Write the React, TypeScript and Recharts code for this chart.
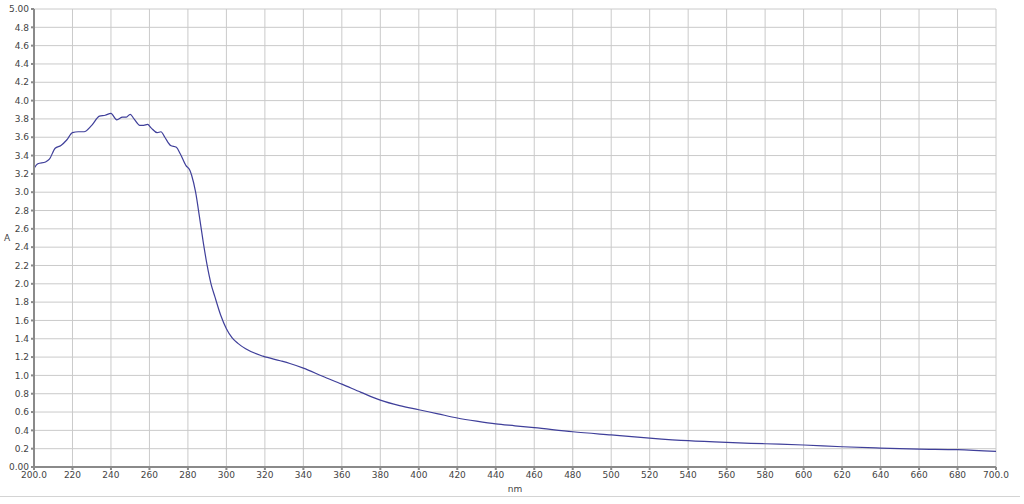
import { LineChart, Line, XAxis, YAxis, CartesianGrid } from "recharts";

// wavelength (nm) and absorbance
const wavelengths = [
  200, 202, 206, 208, 211, 214, 217, 220, 223, 226, 230, 234, 237, 240, 243,
  246, 248, 250, 252, 255, 257, 259, 261, 264, 266, 268, 271, 274, 276, 279,
  281, 282, 284, 286, 288, 290, 292, 294, 297, 300, 303, 306, 310, 319, 328,
  333, 340, 350, 360, 370, 380, 390, 400, 410, 420, 430, 440, 450, 460, 480,
  500, 520, 540, 560, 580, 600, 620, 640, 660, 680, 700,
];
const absorbance = [
  3.26, 3.31, 3.33, 3.36, 3.48, 3.51, 3.57, 3.65, 3.66, 3.66, 3.73, 3.83, 3.84,
  3.86, 3.79, 3.82, 3.82, 3.85, 3.8, 3.73, 3.73, 3.74, 3.7, 3.65, 3.66, 3.6,
  3.51, 3.49, 3.42, 3.29, 3.24, 3.18, 3.0, 2.73, 2.45, 2.2, 2.0, 1.86, 1.66,
  1.51, 1.41, 1.35, 1.29, 1.21, 1.16, 1.13, 1.08, 0.99, 0.905, 0.815, 0.73,
  0.67, 0.625, 0.58, 0.535, 0.5, 0.47, 0.45, 0.43, 0.385, 0.35, 0.316, 0.287,
  0.268, 0.254, 0.24, 0.221, 0.207, 0.196, 0.189, 0.17,
];

const xTicks = [
  200, 220, 240, 260, 280, 300, 320, 340, 360, 380, 400, 420, 440, 460, 480,
  500, 520, 540, 560, 580, 600, 620, 640, 660, 680, 700,
];
const yTicks = [
  0, 0.2, 0.4, 0.6, 0.8, 1.0, 1.2, 1.4, 1.6, 1.8, 2.0, 2.2, 2.4, 2.6, 2.8, 3.0,
  3.2, 3.4, 3.6, 3.8, 4.0, 4.2, 4.4, 4.6, 4.8, 5.0,
];

const data = wavelengths.map((nm, i) => ({ nm, a: absorbance[i] }));

const tickStyle = { fontSize: 9, fill: "#444", fontFamily: "DejaVu Sans" };

export default function App() {
  return (
    <div
      style={{
        position: "absolute",
        left: 0,
        top: 0,
        width: 1024,
        height: 504,
        background: "#fff",
      }}
    >
      <LineChart
        width={1024}
        height={496}
        data={data}
        margin={{ top: 9, right: 28, left: 0, bottom: 0 }}
      >
        <CartesianGrid stroke="#cacaca" strokeWidth={1} />
        <XAxis
          dataKey="nm"
          type="number"
          domain={[200, 700]}
          ticks={xTicks}
          interval={0}
          height={29}
          tickSize={3}
          tick={tickStyle}
          tickFormatter={(v: number) =>
            v === 200 || v === 700 ? v.toFixed(1) : String(v)
          }
          stroke="#8a8a8a"
          strokeWidth={2}
          label={{
            value: "nm",
            position: "insideBottom",
            offset: 4,
            style: { fontSize: 9, fill: "#444", fontFamily: "DejaVu Sans" },
          }}
        />
        <YAxis
          type="number"
          domain={[0, 5]}
          ticks={yTicks}
          interval={0}
          width={34}
          tickSize={3}
          tick={tickStyle}
          tickFormatter={(v: number) =>
            v === 0 || v === 5 ? v.toFixed(2) : v.toFixed(1)
          }
          stroke="#8a8a8a"
          strokeWidth={2}
          label={{
            value: "A",
            position: "insideLeft",
            offset: 4,
            style: { fontSize: 9, fill: "#444", fontFamily: "DejaVu Sans" },
          }}
        />
        <Line
          dataKey="a"
          type="monotone"
          stroke="#3f3f9a"
          strokeWidth={1.2}
          dot={false}
          isAnimationActive={false}
        />
      </LineChart>
      <div
        style={{
          position: "absolute",
          left: 0,
          top: 496,
          width: 1020,
          height: 0,
          borderTop: "1px solid #d4d4d4",
        }}
      />
    </div>
  );
}
